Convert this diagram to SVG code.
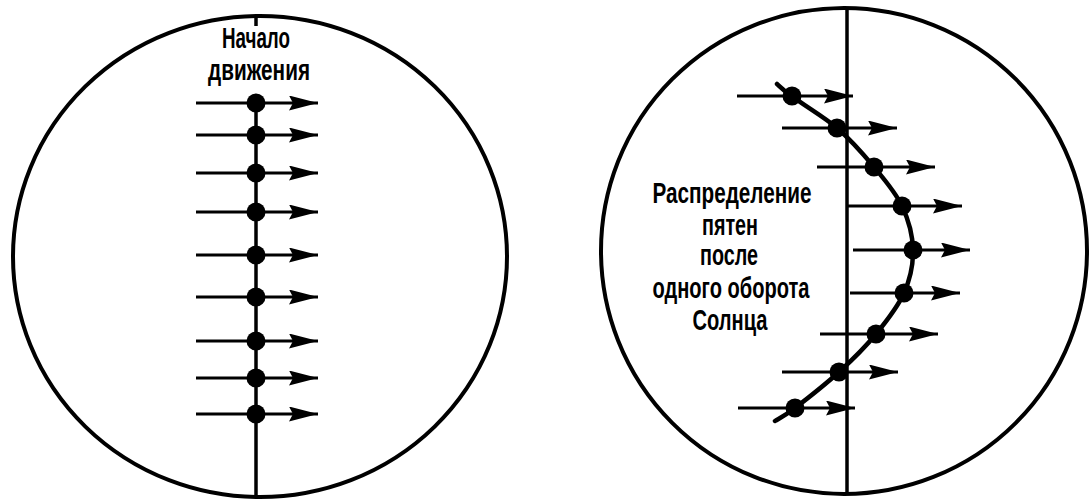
<svg xmlns="http://www.w3.org/2000/svg" width="1092" height="502" viewBox="0 0 1092 502">
<style>
.rim{fill:none;stroke:#000;stroke-width:4}
.axis{fill:none;stroke:#000;stroke-width:3.5}
.arr{fill:none;stroke:#000;stroke-width:3.2;marker-end:url(#ah)}
.dot{fill:#000}
.curve{fill:none;stroke:#000;stroke-width:4.5;stroke-linecap:round}
.lbl{font-family:"Liberation Sans Narrow","Liberation Sans",Arial,sans-serif;font-size:30px;font-weight:bold;fill:#000;text-anchor:middle}
</style>
<defs>
<marker id="ah" markerUnits="userSpaceOnUse" markerWidth="32" markerHeight="16" refX="29" refY="7.5" orient="auto" viewBox="0 0 32 16">
<path d="M0,0 L29,7.5 L0,15 L4,7.5 z" fill="#000"/>
</marker>
</defs>
<rect width="1092" height="502" fill="#fff"/>
<g id="left-disk">
<ellipse class="rim" cx="260" cy="256.5" rx="247" ry="240.5"/>
<line class="axis" x1="256" y1="16" x2="256" y2="26"/>
<line class="axis" x1="256" y1="103" x2="256" y2="497"/>
<text class="lbl" x="256" y="48" textLength="68" lengthAdjust="spacingAndGlyphs">Начало</text>
<text class="lbl" x="259" y="80" textLength="102" lengthAdjust="spacingAndGlyphs">движения</text>
</g>
<g id="left-spots">
<g class="connectors">
<line class="arr" x1="196" y1="103" x2="318" y2="103"/>
<line class="arr" x1="196" y1="135" x2="318" y2="135"/>
<line class="arr" x1="196" y1="173" x2="318" y2="173"/>
<line class="arr" x1="196" y1="212" x2="318" y2="212"/>
<line class="arr" x1="196" y1="255" x2="318" y2="255"/>
<line class="arr" x1="196" y1="297" x2="318" y2="297"/>
<line class="arr" x1="196" y1="341" x2="318" y2="341"/>
<line class="arr" x1="196" y1="378" x2="318" y2="378"/>
<line class="arr" x1="196" y1="414" x2="318" y2="414"/>
</g>
<circle class="dot" cx="256" cy="103" r="9.5"/>
<circle class="dot" cx="256" cy="135" r="9.5"/>
<circle class="dot" cx="256" cy="173" r="9.5"/>
<circle class="dot" cx="256" cy="212" r="9.5"/>
<circle class="dot" cx="256" cy="255" r="9.5"/>
<circle class="dot" cx="256" cy="297" r="9.5"/>
<circle class="dot" cx="256" cy="341" r="9.5"/>
<circle class="dot" cx="256" cy="378" r="9.5"/>
<circle class="dot" cx="256" cy="414" r="9.5"/>
</g>
<g id="right-disk">
<ellipse class="rim" cx="844" cy="251" rx="243" ry="243"/>
<line class="axis" x1="847" y1="8" x2="847" y2="494"/>
<text class="lbl" x="732" y="203" textLength="159" lengthAdjust="spacingAndGlyphs">Распределение</text>
<text class="lbl" x="730" y="235" textLength="56" lengthAdjust="spacingAndGlyphs">пятен</text>
<text class="lbl" x="729" y="265" textLength="58" lengthAdjust="spacingAndGlyphs">после</text>
<text class="lbl" x="731" y="298" textLength="157" lengthAdjust="spacingAndGlyphs">одного оборота</text>
<text class="lbl" x="730" y="330" textLength="75" lengthAdjust="spacingAndGlyphs">Солнца</text>
</g>
<g id="right-spots">
<path class="curve" d="M777,84 C779.5,86.2 782,89.7 792,96 C802,104.3 823.3,116.3 837,128 C850.7,139.7 863.2,154 874,167 C884.8,180 895.5,192.2 902,206 C908.5,219.8 912.7,235.5 913,250 C913.3,264.5 910.2,279 904,293 C897.8,307 886.8,320.8 876,334 C865.2,347.2 852.5,359.7 839,372 C825.5,384.3 805.7,399.8 795,408 C784.3,416.2 778.3,418.8 775,421"/>
<g class="connectors">
<line class="arr" x1="737" y1="96" x2="853" y2="96"/>
<line class="arr" x1="782" y1="128" x2="897" y2="128"/>
<line class="arr" x1="817" y1="167" x2="935" y2="167"/>
<line class="arr" x1="847" y1="206" x2="962" y2="206"/>
<line class="arr" x1="853" y1="250" x2="970" y2="250"/>
<line class="arr" x1="850" y1="293" x2="960" y2="293"/>
<line class="arr" x1="820" y1="334" x2="938" y2="334"/>
<line class="arr" x1="782" y1="372" x2="898" y2="372"/>
<line class="arr" x1="738" y1="408" x2="855" y2="408"/>
</g>
<circle class="dot" cx="792" cy="96" r="9.5"/>
<circle class="dot" cx="837" cy="128" r="9.5"/>
<circle class="dot" cx="874" cy="167" r="9.5"/>
<circle class="dot" cx="902" cy="206" r="9.5"/>
<circle class="dot" cx="913" cy="250" r="9.5"/>
<circle class="dot" cx="904" cy="293" r="9.5"/>
<circle class="dot" cx="876" cy="334" r="9.5"/>
<circle class="dot" cx="839" cy="372" r="9.5"/>
<circle class="dot" cx="795" cy="408" r="9.5"/>
</g>
</svg>
